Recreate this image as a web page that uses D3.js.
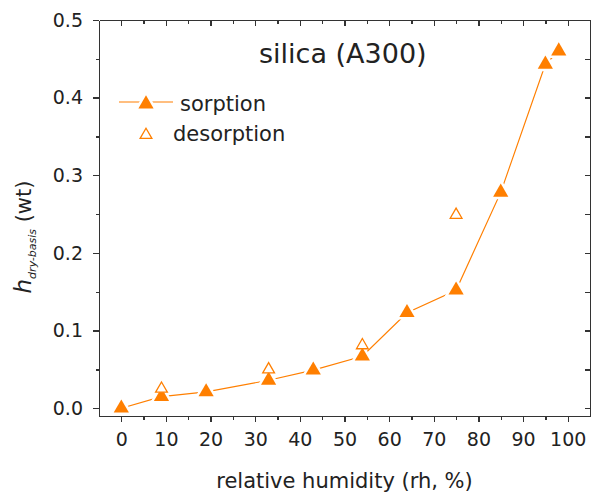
<!DOCTYPE html>
<html>
<meta charset="utf-8">
<style>
  body { margin: 0; background: #fff; }
  svg { font-family: "DejaVu Sans", sans-serif; }
  .axis path, .axis line { stroke: #333; stroke-width: 1.3px; shape-rendering: crispEdges; }
  .axis text { fill: #222; font-size: 19px; font-family: "DejaVu Sans", sans-serif; }
</style>
<svg width="596" height="500"></svg>
<script src="https://d3js.org/d3.v7.min.js"></script>
<script>
  // relative humidity (%) and dry-basis uptake (wt)
  var rhSorption = [0, 9, 19, 33, 43, 54, 64, 75, 85, 95, 98];
  var hSorption = [0.000, 0.015, 0.021, 0.036, 0.049, 0.067, 0.123, 0.152, 0.278, 0.443, 0.460];
  var rhDesorption = [9, 33, 54, 75];
  var hDesorption = [0.025, 0.050, 0.081, 0.249];

  var xTicks = [0, 10, 20, 30, 40, 50, 60, 70, 80, 90, 100];
  var yTicks = [0.0, 0.1, 0.2, 0.3, 0.4, 0.5];
  var legendNames = ["sorption", "desorption"];

  var orange = "#ff7f00";

  var svg = d3.select("svg");
  // plot frame (note: "top" is reserved by window.top)
  var frame = { left: 99, right: 590, top: 20, bottom: 416 };

  var x = d3.scaleLinear().domain([-5, 105]).range([frame.left, frame.right]);
  var y = d3.scaleLinear().domain([-0.01, 0.5]).range([frame.bottom, frame.top]);

  var sorption = rhSorption.map(function (d, i) { return { rh: d, h: hSorption[i] }; });
  var desorption = rhDesorption.map(function (d, i) { return { rh: d, h: hDesorption[i] }; });

  // minor tick positions
  var xMinor = d3.range(5, 101, 10);
  var yMinor = d3.range(0.05, 0.5, 0.1);

  // bottom axis
  svg.append("g").attr("class", "axis")
    .attr("transform", "translate(0," + frame.bottom + ")")
    .call(d3.axisBottom(x).tickValues(xTicks).tickSize(6).tickSizeOuter(0).tickPadding(11));
  svg.append("g").attr("class", "axis")
    .attr("transform", "translate(0," + frame.bottom + ")")
    .call(d3.axisBottom(x).tickValues(xMinor).tickSize(3.5).tickSizeOuter(0).tickFormat(""));

  // top axis (ticks inward)
  svg.append("g").attr("class", "axis")
    .attr("transform", "translate(0," + frame.top + ")")
    .call(d3.axisTop(x).tickValues(xTicks).tickSize(-6).tickSizeOuter(0).tickFormat(""));
  svg.append("g").attr("class", "axis")
    .attr("transform", "translate(0," + frame.top + ")")
    .call(d3.axisTop(x).tickValues(xMinor).tickSize(-4).tickSizeOuter(0).tickFormat(""));

  // left axis
  svg.append("g").attr("class", "axis")
    .attr("transform", "translate(" + frame.left + ",0)")
    .call(d3.axisLeft(y).tickValues(yTicks).tickSize(6).tickSizeOuter(0).tickPadding(10).tickFormat(d3.format(".1f")));
  svg.append("g").attr("class", "axis")
    .attr("transform", "translate(" + frame.left + ",0)")
    .call(d3.axisLeft(y).tickValues(yMinor).tickSize(3.5).tickSizeOuter(0).tickFormat(""));

  // right axis (ticks inward)
  svg.append("g").attr("class", "axis")
    .attr("transform", "translate(" + frame.right + ",0)")
    .call(d3.axisRight(y).tickValues(yTicks.concat(yMinor)).tickSize(-5).tickSizeOuter(0).tickFormat(""));

  // sorption line
  var line = d3.line().x(function (d) { return x(d.rh); }).y(function (d) { return y(d.h); });
  svg.append("path")
    .datum(sorption)
    .attr("d", line)
    .attr("fill", "none")
    .attr("stroke", orange)
    .attr("stroke-width", 1.2);

  var filledTri = d3.symbol().type(d3.symbolTriangle).size(100);
  var openTri = d3.symbol().type(d3.symbolTriangle).size(60);

  svg.selectAll(".sorp")
    .data(sorption)
    .enter().append("path")
    .attr("class", "sorp")
    .attr("d", filledTri)
    .attr("transform", function (d) { return "translate(" + x(d.rh) + "," + y(d.h) + ")"; })
    .attr("fill", orange)
    .attr("stroke", "#fff")
    .attr("stroke-width", 5)
    .style("paint-order", "stroke");

  svg.selectAll(".desorp")
    .data(desorption)
    .enter().append("path")
    .attr("class", "desorp")
    .attr("d", openTri)
    .attr("transform", function (d) { return "translate(" + x(d.rh) + "," + y(d.h) + ")"; })
    .attr("fill", "#fff")
    .attr("stroke", orange)
    .attr("stroke-width", 1.3);

  // title
  svg.append("text")
    .attr("x", 259)
    .attr("y", 63)
    .attr("font-size", 27)
    .attr("fill", "#222")
    .text("silica (A300)");

  // legend
  var lg = svg.append("g").attr("transform", "translate(119,102)");
  lg.append("line").attr("x1", 0).attr("x2", 54).attr("y1", 0).attr("y2", 0)
    .attr("stroke", orange).attr("stroke-width", 1.2);
  lg.append("path").attr("d", filledTri).attr("transform", "translate(27,2)")
    .attr("fill", orange).attr("stroke", "#fff").attr("stroke-width", 5).style("paint-order", "stroke");
  lg.append("text").attr("x", 61).attr("y", 9).attr("font-size", 21).attr("fill", "#222").text(legendNames[0]);
  lg.append("path").attr("d", openTri).attr("transform", "translate(27,33)")
    .attr("fill", "#fff").attr("stroke", orange).attr("stroke-width", 1.3);
  lg.append("text").attr("x", 54).attr("y", 39).attr("font-size", 21).attr("fill", "#222").text(legendNames[1]);

  // x axis label
  svg.append("text")
    .attr("x", (frame.left + frame.right) / 2)
    .attr("y", 488)
    .attr("text-anchor", "middle")
    .attr("font-size", 21)
    .attr("fill", "#222")
    .text("relative humidity (rh, %)");

  // y axis label
  var yl = svg.append("text")
    .attr("transform", "translate(31,237) rotate(-90)")
    .attr("text-anchor", "middle")
    .attr("font-size", 21)
    .attr("fill", "#222");
  yl.append("tspan").attr("font-style", "italic").attr("font-size", 23).text("h");
  yl.append("tspan").attr("font-style", "italic").attr("font-size", 11).attr("dy", 5).text("dry-basis");
  yl.append("tspan").attr("dy", -5).text(" (wt)");
</script>
</html>
